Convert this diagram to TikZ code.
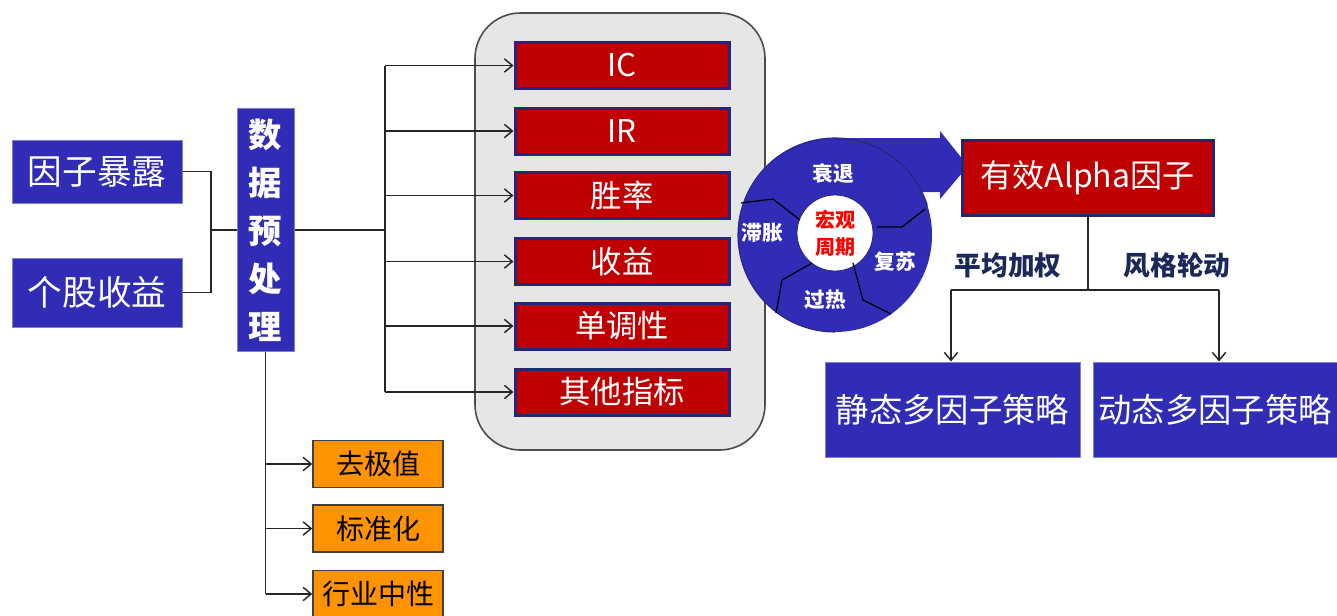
\documentclass[tikz,border=0pt]{standalone}
\usepackage{fontspec}
\setmainfont{Noto Sans CJK SC}
\usetikzlibrary{arrows.meta}
\definecolor{cblue}{RGB}{48,44,182}
\definecolor{cred}{RGB}{192,0,0}
\definecolor{cborder}{RGB}{40,36,120}
\definecolor{corange}{RGB}{255,148,0}
\definecolor{cgrey}{RGB}{230,230,230}
\definecolor{cnavy}{RGB}{26,40,90}
\def\pxu{0.75pt}
\begin{document}
\begin{tikzpicture}[x=0.75pt,y=-0.75pt,
  bluebox/.style={fill=cblue, draw=cblue!60!white, line width=0.75pt, text=white, inner sep=0pt},
  redbox/.style={fill=cred, draw=cborder, line width=2.25pt, text=white, inner sep=0pt,
    minimum width=214*\pxu, minimum height=46*\pxu, font=\fontsize{23.5pt}{26pt}\selectfont},
  orbox/.style={fill=corange, draw=black!75, line width=1.1pt, text=black, inner sep=0pt,
    minimum width=130*\pxu, minimum height=47*\pxu, font=\fontsize{21pt}{24pt}\selectfont},
  panel/.style={fill=cgrey, draw=black!70, line width=1.2pt, rounded corners=34pt, inner sep=0pt},
  conn/.style={draw=black!85, line width=1.1pt},
  arr/.style={conn, -{Straight Barb[length=6pt,width=10pt,line width=1.1pt]}},
  ringlabel/.style={text=white, font=\bfseries\fontsize{15.5pt}{17pt}\selectfont, inner sep=0pt},
  seam/.style={draw=black, line width=0.9pt, line join=round},
  wlabel/.style={text=cnavy, font=\bfseries\fontsize{20pt}{22pt}\selectfont, inner sep=0pt}
]
\useasboundingbox (0,0) rectangle (1337,615);

% grey panel
\node[panel, minimum width=290*\pxu, minimum height=437*\pxu] (pan) at (620,231.5) {};

% input boxes
\node[bluebox, minimum width=170*\pxu, minimum height=63*\pxu, font=\fontsize{26pt}{28pt}\selectfont] (f1) at (97,171.5) {因子暴露};
\node[bluebox, minimum width=170*\pxu, minimum height=69*\pxu, font=\fontsize{26pt}{28pt}\selectfont] (f2) at (97,292.5) {个股收益};
\node[bluebox, minimum width=57*\pxu, minimum height=243*\pxu, align=center, font=\bfseries\fontsize{25pt}{36pt}\selectfont] (pre) at (265.5,230) {数\\据\\预\\处\\理};

% red metric boxes
\node[redbox] (ic) at (622,65.5) {IC};
\node[redbox] (ir) at (622,131) {IR};
\node[redbox] (sl) at (622,195.5) {胜率};
\node[redbox] (sy) at (622,261.5) {收益};
\node[redbox] (dd) at (622,326) {单调性};
\node[redbox] (qt) at (622,392) {其他指标};

% orange boxes
\node[orbox] (o1) at (378,464) {去极值};
\node[orbox] (o2) at (378,528.5) {标准化};
\node[orbox] (o3) at (378,594) {行业中性};

% connectors left
\coordinate (j1) at (211,230);
\draw[conn] (f1.east) -| (j1) |- (f2.east);
\draw[conn] (j1) -- (pre.west);
\coordinate (busT) at (385,65.5);
\coordinate (busB) at (385,392);
\draw[conn] (pre.east) -- (pre.east -| busT);
\draw[conn] (busT) -- (busB);
\foreach \n in {ic,ir,sl,sy,dd,qt}{
  \draw[arr] (\n.west -| busT) -- (\n.west);
}
\coordinate (bbot) at (265.5,594);
\draw[conn] (pre.south) -- (bbot);
\foreach \n in {o1,o2,o3}{
  \draw[arr] (\n.west -| bbot) -- (\n.west);
}

% cycle
\coordinate (cc) at (835,235);
\fill[cblue] (cc) circle (97);
\fill[cblue] (835,138) -- (940,138) -- (940,131) -- (968,166) -- (940,199) -- (940,192) -- (915,192) -- cycle;
\draw[cborder, line width=0.8pt] (cc) ++(-18:97) arc (-18:-270:97);
\fill[white] (835,233) circle (38);
\draw[cborder, line width=0.6pt] (835,233) circle (38);
\draw[seam] (741,203) -- (773,199) -- (800,220);
\draw[seam] (877,227) -- (902,227) -- (925,209);
\draw[seam] (776,313) -- (782,280) -- (812,263);
\draw[seam] (853,263) -- (863,300) -- (891,314);
\node[ringlabel] (r1) at (833,174) {衰退};
\node[ringlabel] (r2) at (762,233) {滞胀};
\node[ringlabel] (r3) at (895,262) {复苏};
\node[ringlabel] (r4) at (825,300) {过热};
\node[text=red, font=\bfseries\fontsize{15pt}{20pt}\selectfont, align=center, inner sep=0pt] (mc) at (835,233) {宏观\\周期};

% right side
\node[redbox, minimum width=251*\pxu, minimum height=75*\pxu, font=\fontsize{24pt}{26pt}\selectfont] (al) at (1087.5,177.5) {有效Alpha因子};
\node[bluebox, minimum width=255*\pxu, minimum height=95*\pxu, font=\fontsize{25pt}{27pt}\selectfont] (s1) at (952.5,409.5) {静态多因子策略};
\node[bluebox, minimum width=244*\pxu, minimum height=95*\pxu, font=\fontsize{25pt}{27pt}\selectfont] (s2) at (1215,409.5) {动态多因子策略};
\coordinate (sp) at (1088,290);
\coordinate (spL) at (951,290);
\coordinate (spR) at (1219,290);
\draw[conn] (al.south -| sp) -- (sp);
\draw[conn] (spL) -- (spR);
\draw[arr] (spL) -- (spL |- s1.north);
\draw[arr] (spR) -- (spR |- s2.north);
\node[wlabel] (l1) at (1008,265) {平均加权};
\node[wlabel] (l2) at (1177,265) {风格轮动};
\end{tikzpicture}
\end{document}
